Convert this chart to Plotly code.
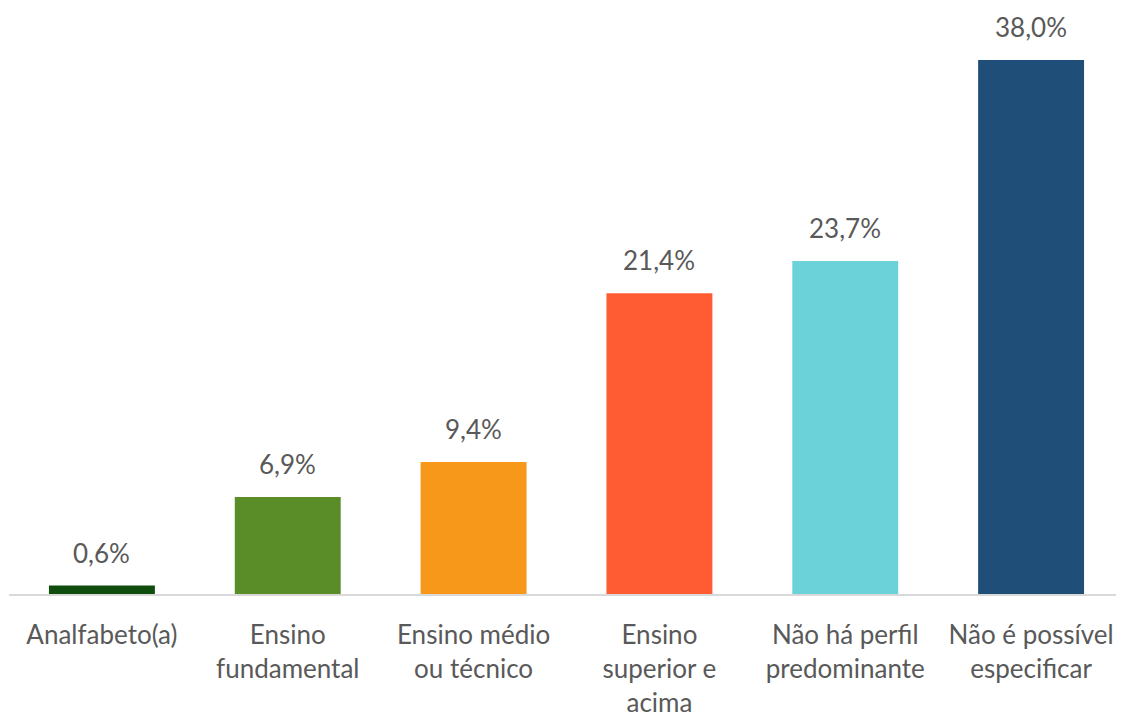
import plotly.graph_objects as go

categorias = ["Analfabeto(a)", "Ensino<br>fundamental", "Ensino médio<br>ou técnico",
              "Ensino<br>superior e<br>acima", "Não há perfil<br>predominante",
              "Não é possível<br>especificar"]
valores = [0.6, 6.9, 9.4, 21.4, 23.7, 38.0]
rotulos = ["0,6%", "6,9%", "9,4%", "21,4%", "23,7%", "38,0%"]
cores = ["#0E4D0E", "#5A8C27", "#F7981B", "#FF5C33", "#6CD2DA", "#1F4E79"]

fonte = "Lato, Calibri, sans-serif"
cinza = "#595959"

fig = go.Figure(go.Bar(
    x=categorias, y=valores,
    marker=dict(color=cores, line=dict(width=0)),
    width=0.57,
))

for c, v, r in zip(categorias, valores, rotulos):
    fig.add_annotation(x=c, y=v, text=r, showarrow=False, yanchor="bottom",
                       yshift=15, font=dict(family=fonte, size=26, color=cinza))

# a página tem margem de 8px no body: figura menor para caber na janela
fig.update_layout(
    width=1116, height=707,
    margin=dict(l=1, r=0, t=0, b=121, autoexpand=False),
    plot_bgcolor="white", paper_bgcolor="white",
    showlegend=False,
    font=dict(family=fonte, size=26, color=cinza),
)
fig.update_xaxes(showline=True, linecolor="#D9D9D9", linewidth=2, automargin=False,
                 ticks="", ticklabelstandoff=17,
                 tickfont=dict(family=fonte, size=26, color=cinza))
fig.update_yaxes(range=[0, 41.7], visible=False, showgrid=False, zeroline=False,
                 automargin=False)

fig.write_html("out.html")
